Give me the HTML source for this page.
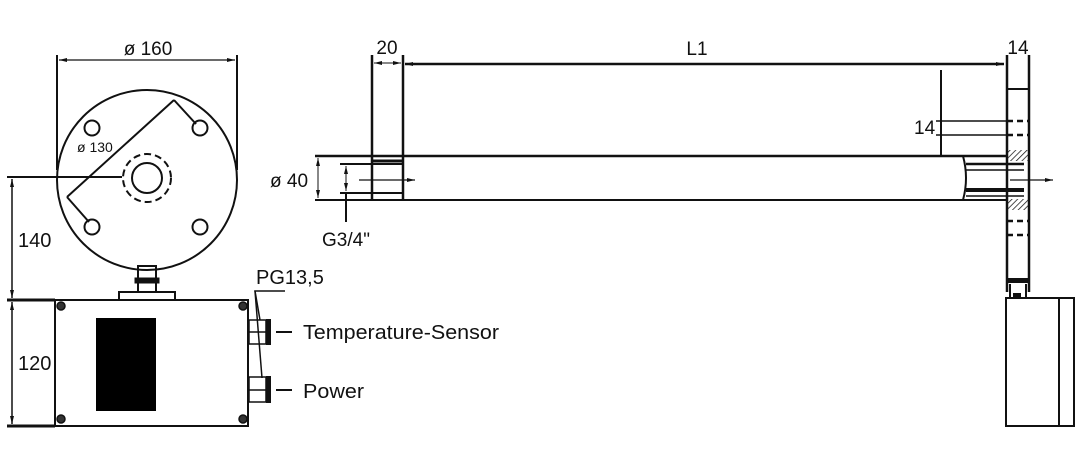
<!DOCTYPE html>
<html><head><meta charset="utf-8"><style>html,body{margin:0;padding:0;background:#fff}svg{display:block}text{font-family:"Liberation Sans",sans-serif;fill:#111}</style></head>
<body>
<svg width="1080" height="454" viewBox="0 0 1080 454" xmlns="http://www.w3.org/2000/svg" stroke="#111" fill="none">
<defs>
<marker id="a" markerWidth="8" markerHeight="6" refX="8" refY="3" orient="auto-start-reverse" markerUnits="userSpaceOnUse"><path d="M0,1 L8,3 L0,5z" fill="#111" stroke="none"/></marker>
<pattern id="h" width="4" height="4" patternUnits="userSpaceOnUse" patternTransform="rotate(45)"><line x1="0" y1="0" x2="0" y2="4" stroke="#111" stroke-width="1.5"/></pattern>
</defs>
<!-- LEFT VIEW -->
<line x1="57" y1="55" x2="57" y2="170" stroke-width="2"/>
<line x1="237" y1="55" x2="237" y2="170" stroke-width="2"/>
<line x1="59" y1="60" x2="235" y2="60" stroke-width="1.3" marker-start="url(#a)" marker-end="url(#a)"/>
<text x="148" y="55" font-size="19" text-anchor="middle" stroke="none">ø 160</text>
<circle cx="147" cy="180" r="90" stroke-width="2"/>
<circle cx="92" cy="128" r="7.5" stroke-width="2"/>
<circle cx="200" cy="128" r="7.5" stroke-width="2"/>
<circle cx="92" cy="227" r="7.5" stroke-width="2"/>
<circle cx="200" cy="227" r="7.5" stroke-width="2"/>
<circle cx="147" cy="178" r="15" stroke-width="2"/>
<circle cx="147" cy="178" r="24" stroke-width="2" stroke-dasharray="7,4"/>
<line x1="174" y1="100" x2="67" y2="197" stroke-width="2"/>
<line x1="174" y1="100" x2="196" y2="124" stroke-width="2"/>
<line x1="67" y1="197" x2="89" y2="222" stroke-width="2"/>
<text x="77" y="152" font-size="14" stroke="none">ø 130</text>
<line x1="7" y1="177" x2="122" y2="177" stroke-width="2"/>
<line x1="12" y1="179" x2="12" y2="298" stroke-width="1.5" marker-start="url(#a)" marker-end="url(#a)"/>
<text x="18" y="247" font-size="20" stroke="none">140</text>
<line x1="7" y1="300" x2="55" y2="300" stroke-width="3"/>
<line x1="7" y1="426" x2="55" y2="426" stroke-width="3"/>
<line x1="12" y1="302" x2="12" y2="424" stroke-width="1.5" marker-start="url(#a)" marker-end="url(#a)"/>
<text x="18" y="370" font-size="20" stroke="none">120</text>
<!-- stem -->
<rect x="138" y="266" width="18" height="26" stroke-width="2"/>
<rect x="135" y="278" width="24" height="5" fill="#111" stroke-width="1"/>
<rect x="119" y="292" width="56" height="8" stroke-width="2"/>
<!-- box -->
<rect x="55" y="300" width="193" height="126" stroke-width="2"/>
<rect x="96" y="318" width="60" height="93" fill="#000" stroke="none"/>
<g stroke-width="1.5"><circle cx="61" cy="306" r="4" fill="#333"/><circle cx="243" cy="306" r="4" fill="#333"/><circle cx="61" cy="419" r="4" fill="#333"/><circle cx="243" cy="419" r="4" fill="#333"/></g>
<!-- glands -->
<rect x="249" y="320" width="17" height="24" stroke-width="1.5"/><line x1="249" y1="332" x2="266" y2="332" stroke-width="1.5"/>
<rect x="266" y="319" width="5" height="26" fill="#111" stroke="none"/>
<rect x="249" y="377" width="17" height="25" stroke-width="1.5"/><line x1="249" y1="390" x2="266" y2="390" stroke-width="1.5"/>
<rect x="266" y="376" width="5" height="27" fill="#111" stroke="none"/>
<polyline points="285,291 255,291 260,320" stroke-width="1.5"/>
<line x1="255" y1="291" x2="262" y2="378" stroke-width="1.5"/>
<text x="256" y="284" font-size="20" stroke="none">PG13,5</text>
<line x1="276" y1="332" x2="292" y2="332" stroke-width="2"/>
<line x1="276" y1="390" x2="292" y2="390" stroke-width="2"/>
<text x="303" y="339" font-size="20" textLength="196" lengthAdjust="spacingAndGlyphs" stroke="none">Temperature-Sensor</text>
<text x="303" y="398" font-size="20" textLength="61" lengthAdjust="spacingAndGlyphs" stroke="none">Power</text>
<!-- SIDE VIEW -->
<line x1="372" y1="55" x2="372" y2="200" stroke-width="2.5"/>
<line x1="403" y1="55" x2="403" y2="200" stroke-width="2.5"/>
<line x1="374" y1="63" x2="401" y2="63" stroke-width="1" marker-start="url(#a)" marker-end="url(#a)"/>
<text x="387" y="54" font-size="19" text-anchor="middle" stroke="none">20</text>
<line x1="405" y1="64" x2="1004" y2="64" stroke-width="2.5" marker-start="url(#a)" marker-end="url(#a)"/>
<text x="697" y="55" font-size="19" text-anchor="middle" stroke="none">L1</text>
<line x1="1007" y1="55" x2="1007" y2="292" stroke-width="2.5"/>
<line x1="1029" y1="55" x2="1029" y2="292" stroke-width="2.5"/>
<line x1="1007" y1="89" x2="1029" y2="89" stroke-width="2"/>
<text x="1018" y="54" font-size="19" text-anchor="middle" stroke="none">14</text>
<!-- pipe -->
<line x1="315" y1="156" x2="1007" y2="156" stroke-width="2.5"/>
<line x1="315" y1="200" x2="963" y2="200" stroke-width="2"/>
<line x1="318" y1="158" x2="318" y2="198" stroke-width="1" marker-start="url(#a)" marker-end="url(#a)"/>
<text x="270" y="187" font-size="19" stroke="none">ø 40</text>
<line x1="340" y1="164" x2="403" y2="164" stroke-width="2"/>
<line x1="340" y1="193" x2="403" y2="193" stroke-width="2"/>
<line x1="373" y1="161" x2="403" y2="161" stroke-width="3"/>
<line x1="346" y1="166" x2="346" y2="191" stroke-width="1" marker-start="url(#a)" marker-end="url(#a)"/>
<line x1="346" y1="193" x2="346" y2="222" stroke-width="2"/>
<text x="322" y="246" font-size="19" stroke="none">G3/4"</text>
<line x1="359" y1="180" x2="415" y2="180" stroke-width="1.3" marker-end="url(#a)"/>
<!-- inner 14 -->
<line x1="941" y1="70" x2="941" y2="155" stroke-width="2"/>
<line x1="936" y1="121" x2="1007" y2="121" stroke-width="1.5"/>
<line x1="936" y1="135" x2="1007" y2="135" stroke-width="1.5"/>
<text x="914" y="134" font-size="19" stroke="none">14</text>
<g stroke-width="2.5" stroke-dasharray="6,4"><line x1="1007" y1="121" x2="1029" y2="121"/><line x1="1007" y1="135" x2="1029" y2="135"/><line x1="1007" y1="221" x2="1029" y2="221"/><line x1="1007" y1="235" x2="1029" y2="235"/></g>
<!-- pipe end -->
<path d="M963,156 Q969,178 963,200" stroke-width="2"/>
<line x1="966" y1="164" x2="1024" y2="164" stroke-width="2.5"/>
<line x1="966" y1="170" x2="1024" y2="170" stroke-width="1.5"/>
<line x1="966" y1="190" x2="1024" y2="190" stroke-width="4"/>
<line x1="966" y1="196" x2="1024" y2="196" stroke-width="1.5"/>
<line x1="963" y1="200" x2="1007" y2="200" stroke-width="2"/>
<rect x="1007" y="150" width="22" height="11" fill="url(#h)" stroke="none"/>
<rect x="1007" y="199" width="22" height="11" fill="url(#h)" stroke="none"/>
<line x1="1010" y1="180" x2="1053" y2="180" stroke-width="1.3" marker-end="url(#a)"/>
<!-- right stem + box -->
<rect x="1007" y="278" width="21" height="5" fill="#111" stroke="none"/>
<line x1="1010" y1="284" x2="1010" y2="298" stroke-width="2"/>
<line x1="1026" y1="284" x2="1026" y2="298" stroke-width="2"/>
<rect x="1013" y="293" width="8" height="5" fill="#111" stroke="none"/>
<rect x="1006" y="298" width="68" height="128" stroke-width="2"/>
<line x1="1059" y1="298" x2="1059" y2="426" stroke-width="2"/>
</svg>
</body></html>
